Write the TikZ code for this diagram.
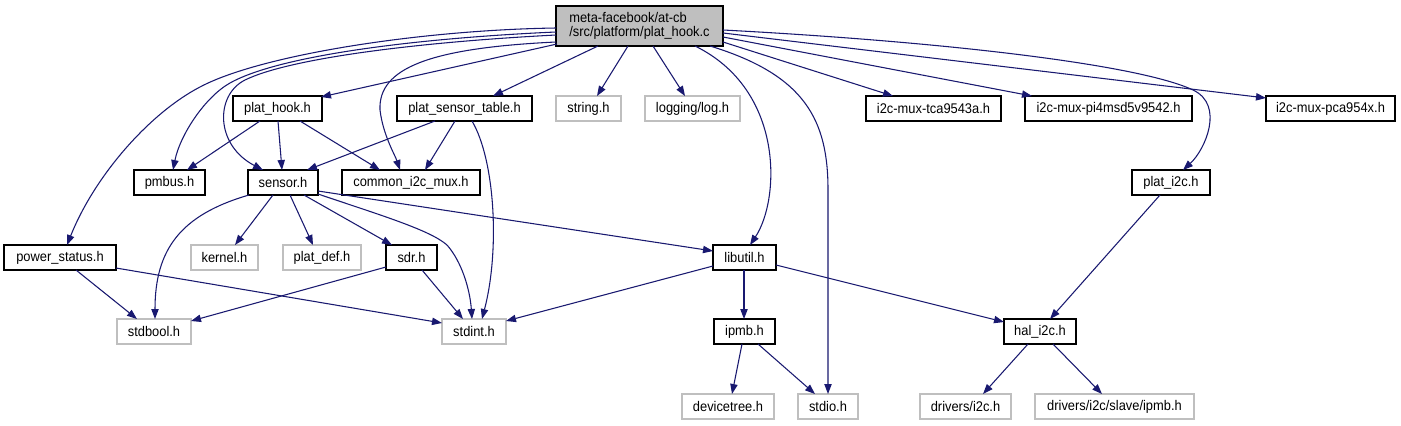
\documentclass[tikz,border=0pt]{standalone}
\usepackage{fontspec}
\setmainfont{Liberation Sans}[FakeStretch=0.92]
\usetikzlibrary{arrows.meta}
\definecolor{edgeblue}{HTML}{191970}
\definecolor{greyseventyfive}{HTML}{BFBFBF}
\begin{document}
\begin{tikzpicture}[x=0.75pt,y=-0.75pt,
  font=\fontsize{10.5}{11}\selectfont,
  box/.style={draw=black, line width=0.8pt, fill=white, inner sep=0pt, outer sep=0pt, minimum height=18.75pt},
  gbox/.style={box, draw=greyseventyfive},
  wd/.style={minimum width=#1*0.75pt},
  e/.style={draw=edgeblue, line width=0.8pt, -{Triangle[length=7.5pt,width=5.5pt]}}]
\useasboundingbox[fill=white] (0,0) rectangle (1401,425);
% nodes
\node[box, fill=greyseventyfive, wd=167, minimum height=30pt, align=left] (root) at (639.5,26) {meta-facebook/at-cb\\/src/platform/plat\_hook.c};
\node[box, wd=89] (plathook) at (277.5,108.5) {plat\_hook.h};
\node[box, wd=135] (pst) at (464.5,108.5) {plat\_sensor\_table.h};
\node[gbox, wd=65] (string) at (588.5,108.5) {string.h};
\node[gbox, wd=95] (logging) at (692.5,108.5) {logging/log.h};
\node[box, wd=135] (tca) at (933.5,108.5) {i2c-mux-tca9543a.h};
\node[box, wd=167] (pifour) at (1108.5,108.5) {i2c-mux-pi4msd5v9542.h};
\node[box, wd=129] (pca) at (1330.5,108.5) {i2c-mux-pca954x.h};
\node[box, wd=71] (pmbus) at (169.5,182.5) {pmbus.h};
\node[box, wd=70] (sensor) at (283,182.5) {sensor.h};
\node[box, wd=138] (common) at (411,182.5) {common\_i2c\_mux.h};
\node[box, wd=78] (plati2c) at (1171,182.5) {plat\_i2c.h};
\node[box, wd=112] (power) at (60,257.5) {power\_status.h};
\node[gbox, wd=67] (kernel) at (224.5,257.5) {kernel.h};
\node[gbox, wd=78] (platdef) at (322,257.5) {plat\_def.h};
\node[box, wd=51] (sdr) at (411.5,257.5) {sdr.h};
\node[box, wd=63] (libutil) at (744.5,257.5) {libutil.h};
\node[gbox, wd=74] (stdbool) at (154,331.5) {stdbool.h};
\node[gbox, wd=64] (stdint) at (474,331.5) {stdint.h};
\node[box, wd=61] (ipmb) at (744.5,331.5) {ipmb.h};
\node[box, wd=72] (hal) at (1040,331.5) {hal\_i2c.h};
\node[gbox, wd=92] (devicetree) at (728,406.5) {devicetree.h};
\node[gbox, wd=60] (stdio) at (828,406.5) {stdio.h};
\node[gbox, wd=91] (dii) at (965.5,406.5) {drivers/i2c.h};
\node[gbox, wd=159] (slave) at (1114.5,406.5) {drivers/i2c/slave/ipmb.h};
% edges from root
\draw[e] ([shift={(1,38)}]root.north west) -- ([shift={(88,1)}]plathook.north west);
\draw[e] ([shift={(42,40)}]root.north west) -- ([shift={(96,0)}]pst.north west);
\draw[e] ([shift={(72,40)}]root.north west) -- ([shift={(41,0)}]string.north west);
\draw[e] ([shift={(97,40)}]root.north west) -- ([shift={(40,0)}]logging.north west);
\draw[e] ([shift={(167,36)}]root.north west) -- ([shift={(27,0)}]tca.north west);
\draw[e] ([shift={(167,31)}]root.north west) -- ([shift={(7,0)}]pifour.north west);
\draw[e] ([shift={(167,27)}]root.north west) -- ([shift={(0,2)}]pca.north west);
\draw[e] ([shift={(167,24)}]root.north west) .. controls (950,42) and (1140,65) .. (1193,90)
  .. controls (1225,105) and (1205,150) .. ([shift={(51,0)}]plati2c.north west);
\draw[e] ([shift={(139,40)}]root.north west) .. controls (785,90) and (780,200) .. ([shift={(37,0)}]libutil.north west);
\draw[e] ([shift={(154,40)}]root.north west) .. controls (805,75) and (828,120) .. (828,190) -- ([shift={(30,0)}]stdio.north west);
\draw[e] ([shift={(0,26)}]root.north west) .. controls (420,38) and (280,55) .. (230,83)
  .. controls (205,97) and (180,135) .. ([shift={(39,0)}]pmbus.north west);
\draw[e] ([shift={(0,29)}]root.north west) .. controls (420,42) and (290,58) .. (245,80)
  .. controls (215,95) and (215,145) .. ([shift={(15,0)}]sensor.north west);
\draw[e] ([shift={(0,22)}]root.north west) .. controls (420,30) and (260,55) .. (200,87)
  .. controls (150,113) and (95,175) .. ([shift={(63,0)}]power.north west);
\draw[e] ([shift={(0,36)}]root.north west) .. controls (430,48) and (378,68) .. (380,110)
  .. controls (383,135) and (395,155) .. ([shift={(58,0)}]common.north west);
% plat_hook.h
\draw[e] ([shift={(27,25)}]plathook.north west) -- ([shift={(53,0)}]pmbus.north west);
\draw[e] ([shift={(45,25)}]plathook.north west) -- ([shift={(34,0)}]sensor.north west);
\draw[e] ([shift={(67,25)}]plathook.north west) -- ([shift={(38,0)}]common.north west);
% plat_sensor_table.h
\draw[e] ([shift={(38,25)}]pst.north west) -- ([shift={(59,0)}]sensor.north west);
\draw[e] ([shift={(58,25)}]pst.north west) -- ([shift={(83,0)}]common.north west);
\draw[e] ([shift={(75,25)}]pst.north west) .. controls (495,160) and (500,250) .. ([shift={(40,0)}]stdint.north west);
% sensor.h
\draw[e] ([shift={(1,25)}]sensor.north west) .. controls (180,215) and (155,250) .. ([shift={(38,0)}]stdbool.north west);
\draw[e] ([shift={(25,25)}]sensor.north west) -- ([shift={(44,0)}]kernel.north west);
\draw[e] ([shift={(42,25)}]sensor.north west) -- ([shift={(30,0)}]platdef.north west);
\draw[e] ([shift={(56,25)}]sensor.north west) -- ([shift={(6,0)}]sdr.north west);
\draw[e] ([shift={(70,24)}]sensor.north west) .. controls (380,215) and (430,230) .. (447,245)
  .. controls (462,262) and (470,290) .. ([shift={(30,0)}]stdint.north west);
\draw[e] ([shift={(70,21)}]sensor.north west) -- ([shift={(0,6)}]libutil.north west);
% power_status.h
\draw[e] ([shift={(72,25)}]power.north west) -- ([shift={(20,0)}]stdbool.north west);
\draw[e] ([shift={(112,23)}]power.north west) -- ([shift={(0,4)}]stdint.north west);
% sdr.h
\draw[e] ([shift={(0,22)}]sdr.north west) -- ([shift={(74,2)}]stdbool.north west);
\draw[e] ([shift={(36,25)}]sdr.north west) -- ([shift={(21,0)}]stdint.north west);
% libutil.h
\draw[e] ([shift={(0,21)}]libutil.north west) -- ([shift={(64,2)}]stdint.north west);
\draw[e] ([shift={(31,25)}]libutil.north west) -- ([shift={(30,0)}]ipmb.north west);
\draw[e] ([shift={(63,20)}]libutil.north west) -- ([shift={(0,3)}]hal.north west);
% plat_i2c.h
\draw[e] ([shift={(28,25)}]plati2c.north west) -- ([shift={(46,0)}]hal.north west);
% ipmb.h
\draw[e] ([shift={(28,25)}]ipmb.north west) -- ([shift={(50,0)}]devicetree.north west);
\draw[e] ([shift={(44,25)}]ipmb.north west) -- ([shift={(17,0)}]stdio.north west);
% hal_i2c.h
\draw[e] ([shift={(24,25)}]hal.north west) -- ([shift={(63,0)}]dii.north west);
\draw[e] ([shift={(49,25)}]hal.north west) -- ([shift={(67,0)}]slave.north west);
\end{tikzpicture}
\end{document}
